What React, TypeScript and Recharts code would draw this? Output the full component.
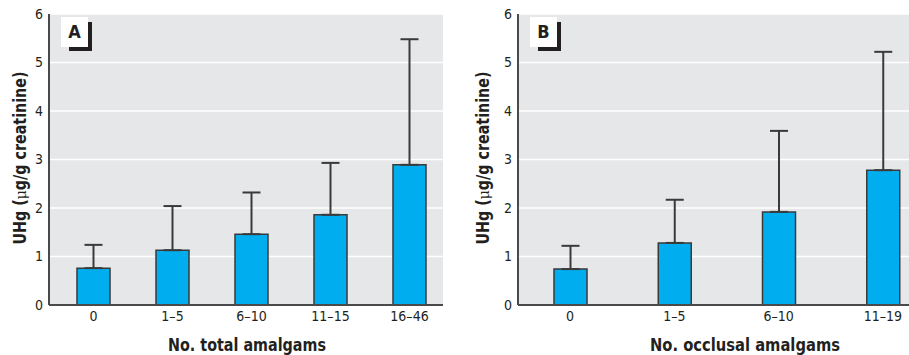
import React from "react";
import { BarChart, Bar, XAxis, YAxis, CartesianGrid, ErrorBar } from "recharts";

const catsA = ["0", "1–5", "6–10", "11–15", "16–46"];
const meanA = [0.76, 1.13, 1.46, 1.86, 2.89];
const upperA = [1.24, 2.04, 2.32, 2.93, 5.48];

const catsB = ["0", "1–5", "6–10", "11–19"];
const meanB = [0.74, 1.28, 1.92, 2.78];
const upperB = [1.22, 2.17, 3.59, 5.22];

const yTicks = [0, 1, 2, 3, 4, 5, 6];

const titleA = "No. total amalgams";
const titleB = "No. occlusal amalgams";

const FONT = "'Liberation Sans Narrow', 'DejaVu Sans Condensed', 'Roboto Condensed', 'Liberation Sans', sans-serif";
const TEXT = "#231f20";
const AXIS = "#4a4a4a";

const build = (cats: string[], mean: number[], upper: number[]) =>
  cats.map((c, i) => ({ cat: c, mean: mean[i], err: [0, +(upper[i] - mean[i]).toFixed(3)] }));

const dataA = build(catsA, meanA, upperA);
const dataB = build(catsB, meanB, upperB);

type PanelProps = {
  data: any[];
  width: number;
  rightMargin: number;
  padLeft: number;
  padRight: number;
  title: string;
  titleX: number;
  titleLen: number;
  yLabelX: number;
};

const Panel = ({ data, width, rightMargin, padLeft, padRight, title, titleX, titleLen, yLabelX }: PanelProps) => (
  <BarChart
    width={width}
    height={355}
    data={data}
    margin={{ top: 14, right: rightMargin, bottom: 0, left: 0 }}
  >
    <CartesianGrid vertical={false} stroke="#ffffff" strokeWidth={1.5} fill="#e6e7e8" />
    <XAxis
      dataKey="cat"
      height={50}
      padding={{ left: padLeft, right: padRight }}
      axisLine={{ stroke: AXIS, strokeWidth: 2 }}
      tickLine={false}
      tickSize={4}
      tickMargin={2}
      tick={{ fill: TEXT, fontSize: 14, fontFamily: FONT }}
      label={(props: any) => (
        <text
          x={titleX}
          y={351}
          textAnchor="middle"
          fill={TEXT}
          fontSize={18}
          fontWeight="bold"
          fontFamily={FONT}
          textLength={titleLen}
          lengthAdjust="spacingAndGlyphs"
        >
          {title}
        </text>
      )}
    />
    <YAxis
      width={49}
      domain={[0, 6]}
      ticks={yTicks}
      interval={0}
      axisLine={{ stroke: AXIS, strokeWidth: 2 }}
      tickLine={false}
      tickSize={4}
      tickMargin={2}
      tick={{ fill: TEXT, fontSize: 14, fontFamily: FONT }}
      label={(props: any) => (
        <text
          x={yLabelX}
          y={158}
          transform={`rotate(-90, ${yLabelX}, 158)`}
          textAnchor="middle"
          fill={TEXT}
          fontSize={17}
          fontWeight="bold"
          fontFamily={FONT}
          textLength={173}
          lengthAdjust="spacingAndGlyphs"
        >
          UHg (<tspan fontWeight="normal" fontFamily="'DejaVu Serif', serif" fontSize={15}>μ</tspan>g/g creatinine)
        </text>
      )}
    />
    <Bar
      dataKey="mean"
      fill="#00aeef"
      stroke="#3a3a3a"
      strokeWidth={1.5}
      barSize={33}
      isAnimationActive={false}
    >
      <ErrorBar dataKey="err" direction="y" width={9} stroke="#3a3a3a" strokeWidth={2} />
    </Bar>
  </BarChart>
);

const PanelTag = ({ left, letter }: { left: number; letter: string }) => (
  <div style={{ position: "absolute", left, top: 17, width: 31, height: 34 }}>
    <div style={{ position: "absolute", left: 27, top: 5, width: 4, height: 29, background: TEXT }} />
    <div style={{ position: "absolute", left: 8, top: 30, width: 23, height: 4, background: TEXT }} />
    <div
      style={{
        position: "absolute",
        left: 0,
        top: 0,
        width: 27,
        height: 30,
        background: "#ffffff",
        color: TEXT,
        fontFamily: FONT,
        fontWeight: "bold",
        fontSize: 18,
        lineHeight: "30px",
        textAlign: "center",
      }}
    >
      {letter}
    </div>
  </div>
);

export default function App() {
  return (
    <div
      style={{
        position: "absolute",
        left: 0,
        top: 0,
        width: 909,
        height: 355,
        overflow: "hidden",
        background: "#ffffff",
      }}
    >
      <div style={{ position: "absolute", left: 0, top: 0 }}>
        <Panel
          data={dataA}
          width={450}
          rightMargin={7}
          padLeft={5}
          padRight={-6}
          title={titleA}
          titleX={247}
          titleLen={158}
          yLabelX={26}
        />
      </div>
      <div style={{ position: "absolute", left: 469, top: 0 }}>
        <Panel
          data={dataB}
          width={466}
          rightMargin={0}
          padLeft={0}
          padRight={0}
          title={titleB}
          titleX={276}
          titleLen={190}
          yLabelX={20}
        />
      </div>
      <PanelTag left={61} letter="A" />
      <PanelTag left={530} letter="B" />
    </div>
  );
}
